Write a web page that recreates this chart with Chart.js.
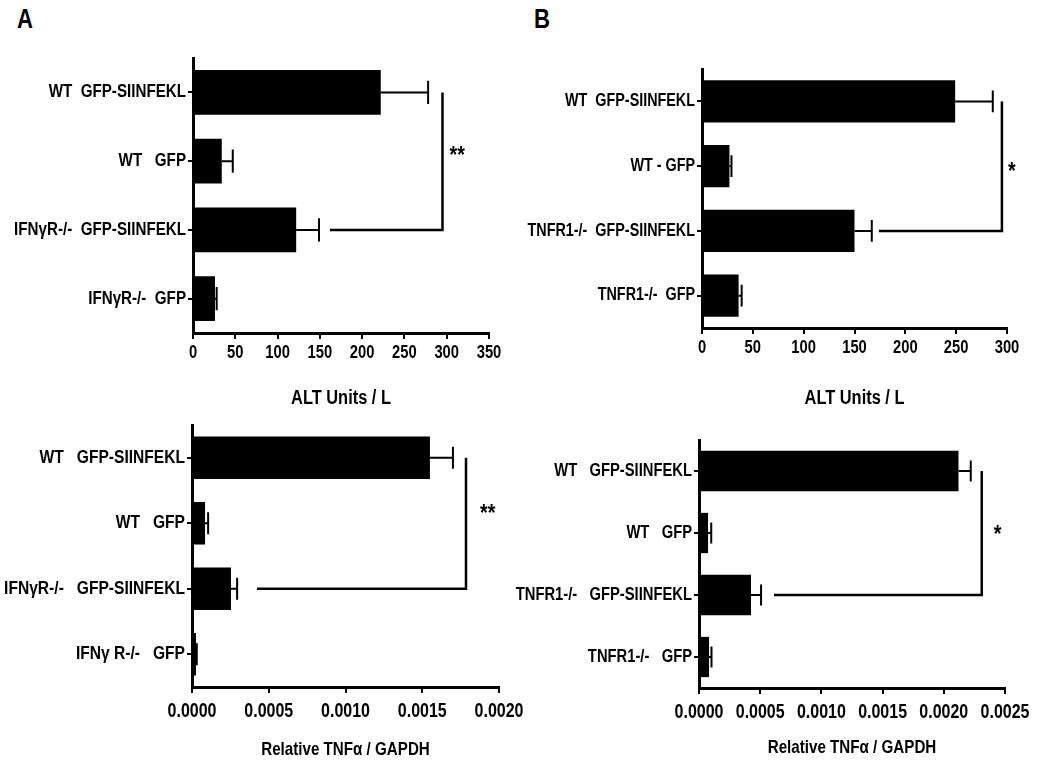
<!DOCTYPE html>
<html><head><meta charset="utf-8">
<script src="https://cdn.jsdelivr.net/npm/chart.js@4.4.1/dist/chart.umd.min.js"></script>
<style>
html,body{margin:0;padding:0;background:#fff;}
body{width:1050px;height:770px;position:relative;overflow:hidden;}
canvas{position:absolute;}
.lbl{position:absolute;font-weight:bold;font-size:27px;line-height:27px;font-family:"Liberation Sans",Arial,sans-serif;color:#000;transform:scaleX(0.82);transform-origin:0 0;}
</style></head><body>
<div class="lbl" style="left:17px;top:6px">A</div>
<div class="lbl" style="left:534px;top:6px">B</div>
<canvas id="cA"></canvas>
<canvas id="cB"></canvas>
<canvas id="cC"></canvas>
<canvas id="cD"></canvas>
<script>
const FONT = '"Liberation Sans", Arial, sans-serif';
const NARROW = 0.82;   // horizontal squeeze that mimics a narrow bold face

// ---- Panel A : ALT, IFNγR ----
const catsA = ['WT  GFP-SIINFEKL', 'WT   GFP', 'IFNγR-/-  GFP-SIINFEKL', 'IFNγR-/-  GFP'];
const valsA = [222, 34, 122, 26];
const errA  = [56, 13, 27, 2];
const ticksA = ['0', '50', '100', '150', '200', '250', '300', '350'];
const bracketA = [295, 162];   // [bracket x value, start of horizontal arm]
const starsA = '**';

// ---- Panel B : ALT, TNFR1 ----
const catsB = ['WT  GFP-SIINFEKL', 'WT - GFP', 'TNFR1-/-  GFP-SIINFEKL', 'TNFR1-/-  GFP'];
const valsB = [249, 27, 150, 36];
const errB  = [37, 2, 17, 3];
const ticksB = ['0', '50', '100', '150', '200', '250', '300'];
const bracketB = [295, 174];
const starsB = '*';

// ---- Panel C : TNFα, IFNγR ----
const catsC = ['WT   GFP-SIINFEKL', 'WT   GFP', 'IFNγR-/-   GFP-SIINFEKL', 'IFNγ R-/-   GFP'];
const valsC = [0.00155, 0.000085, 0.000254, 0.000026];
const errC  = [0.00015, 0.00002, 0.00004, 0.000005];
const ticksC = ['0.0000', '0.0005', '0.0010', '0.0015', '0.0020'];
const bracketC = [0.001785, 0.000423];
const starsC = '**';

// ---- Panel D : TNFα, TNFR1 ----
const catsD = ['WT   GFP-SIINFEKL', 'WT   GFP', 'TNFR1-/-   GFP-SIINFEKL', 'TNFR1-/-   GFP'];
const valsD = [0.00212, 0.000074, 0.000425, 0.000082];
const errD  = [0.0001, 0.000026, 0.000082, 0.00002];
const ticksD = ['0.0000', '0.0005', '0.0010', '0.0015', '0.0020', '0.0025'];
const bracketD = [0.00231, 0.000613];
const starsD = '*';

const decor = {
  id: 'decor',
  afterDatasetsDraw(chart, args, o) {
    const ctx = chart.ctx, xs = chart.scales.x, ys = chart.scales.y;
    const meta = chart.getDatasetMeta(0);
    const vals = chart.data.datasets[0].data;
    ctx.save();
    ctx.strokeStyle = '#000';
    ctx.fillStyle = '#000';
    ctx.lineWidth = 2;
    meta.data.forEach((bar, i) => {
      const yc = bar.y, h = bar.height;
      const x0 = xs.getPixelForValue(vals[i]);
      const x1 = xs.getPixelForValue(vals[i] + o.err[i]);
      ctx.beginPath();
      ctx.moveTo(x0, yc); ctx.lineTo(x1, yc);
      ctx.moveTo(x1, yc - h * 0.26); ctx.lineTo(x1, yc + h * 0.26);
      ctx.stroke();
    });
    const px = xs.getPixelForValue(o.bracket[0]);
    const ps = xs.getPixelForValue(o.bracket[1]);
    const yT = ys.getPixelForValue(0), yB = ys.getPixelForValue(2);
    ctx.lineWidth = 2.5;
    ctx.beginPath();
    ctx.moveTo(px, yT); ctx.lineTo(px, yB); ctx.lineTo(ps, yB);
    ctx.stroke();
    ctx.font = 'bold 24px ' + FONT;
    ctx.textAlign = 'left';
    ctx.textBaseline = 'middle';
    ctx.fillText(o.stars, px + o.sx, ys.getPixelForValue(1) + o.sy);
    ctx.restore();
  }
};

function narrowText(cv) {
  const ctx = cv.getContext('2d');
  const orig = ctx.fillText;
  ctx.fillText = function (t, x, y, mw) {
    this.save();
    this.translate(x, y);
    this.scale(NARROW, 1);
    if (mw === undefined) orig.call(this, t, 0, 0); else orig.call(this, t, 0, 0, mw / NARROW);
    this.restore();
  };
}

function makePanel(id, rect, area, titleY, cats, vals, errs, tickLabels, max, step, title, bracket, stars, st) {
  const cv = document.getElementById(id);
  cv.width = rect.w; cv.height = rect.h;
  cv.style.left = rect.x + 'px'; cv.style.top = rect.y + 'px';
  narrowText(cv);
  const tLine = st.titleSize * 1.2;
  const scaleBottom = titleY + tLine / 2;
  new Chart(cv, {
    type: 'bar',
    data: { labels: cats, datasets: [{ data: vals, backgroundColor: '#000', borderWidth: 0, barPercentage: 0.65, categoryPercentage: 1 }] },
    options: {
      indexAxis: 'y', responsive: false, animation: false,
      layout: { padding: { top: area.top - rect.y, left: 0, right: rect.x + rect.w - area.right, bottom: rect.y + rect.h - scaleBottom } },
      plugins: { legend: { display: false }, tooltip: { enabled: false },
        decor: { err: errs, bracket: bracket, stars: stars, sx: st.sx, sy: st.sy } },
      scales: {
        x: {
          type: 'linear', min: 0, max: max,
          ticks: { stepSize: step, autoSkip: false, maxRotation: 0, color: '#000', padding: st.tickPad,
                   font: { family: FONT, weight: 'bold', size: st.tickSize },
                   callback: (v, i) => tickLabels[i] },
          grid: { drawOnChartArea: false, color: '#000', lineWidth: 2, tickLength: 6 },
          border: { color: '#000', width: 3 },
          title: { display: true, text: title, color: '#000', padding: 0,
                   font: { family: FONT, weight: 'bold', size: st.titleSize, lineHeight: 1.2 } },
          afterFit(s) { s.height = scaleBottom - area.bottom; s.paddingLeft = 0; s.paddingRight = 0; }
        },
        y: {
          ticks: { autoSkip: false, color: '#000', padding: 2,
                   font: { family: FONT, weight: 'bold', size: st.catSize } },
          grid: { offset: false, drawOnChartArea: false, color: '#000', lineWidth: 2, tickLength: 5 },
          border: { color: '#000', width: 3 },
          afterFit(s) { s.width = area.left - rect.x; s.paddingTop = 0; s.paddingBottom = 0; }
        }
      }
    },
    plugins: [decor]
  });
}

makePanel('cA', {x: 0, y: 0, w: 520, h: 415}, {left: 193, right: 489, top: 58, bottom: 333}, 398,
  catsA, valsA, errA, ticksA, 350, 50, 'ALT Units / L', bracketA, starsA,
  {tickSize: 18, catSize: 18.5, titleSize: 20, tickPad: 3, sx: 7, sy: -5});
makePanel('cB', {x: 505, y: 0, w: 545, h: 415}, {left: 702, right: 1007, top: 69, bottom: 328}, 398,
  catsB, valsB, errB, ticksB, 300, 50, 'ALT Units / L', bracketB, starsB,
  {tickSize: 18, catSize: 17.5, titleSize: 20, tickPad: 3, sx: 6, sy: 6});
makePanel('cC', {x: 0, y: 415, w: 535, h: 355}, {left: 192, right: 499, top: 425, bottom: 687}, 750,
  catsC, valsC, errC, ticksC, 0.002, 0.0005, 'Relative TNFα / GAPDH', bracketC, starsC,
  {tickSize: 19.5, catSize: 19, titleSize: 18.5, tickPad: 7, sx: 14, sy: -9});
makePanel('cD', {x: 500, y: 415, w: 550, h: 355}, {left: 699, right: 1005, top: 440, bottom: 688}, 748,
  catsD, valsD, errD, ticksD, 0.0025, 0.0005, 'Relative TNFα / GAPDH', bracketD, starsD,
  {tickSize: 19.5, catSize: 18, titleSize: 18.5, tickPad: 7, sx: 12, sy: 2});
</script>
</body></html>
